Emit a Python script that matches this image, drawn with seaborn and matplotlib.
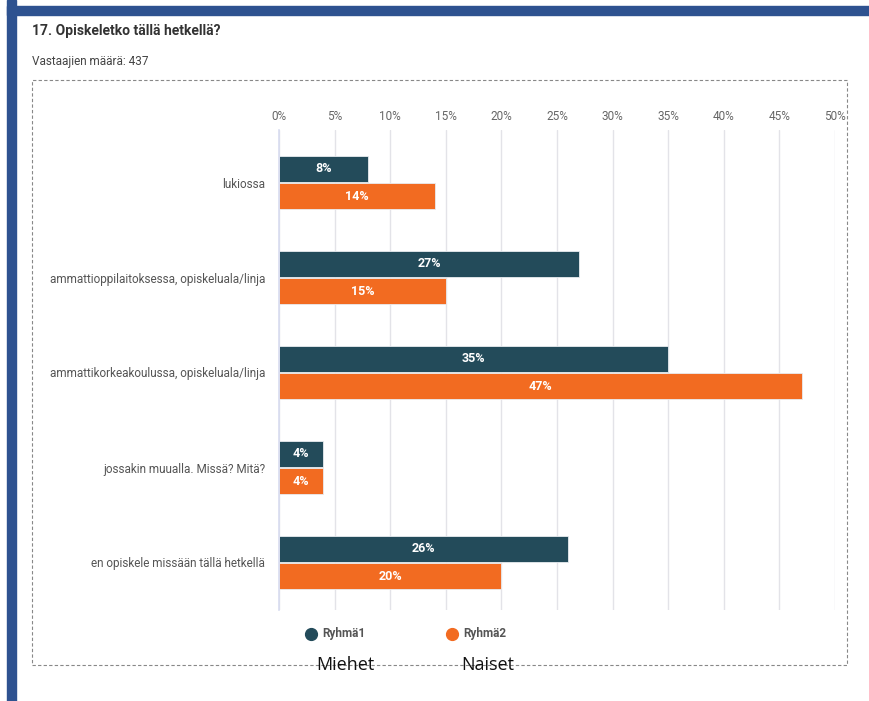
import matplotlib
matplotlib.use("Agg")
import matplotlib.pyplot as plt
import seaborn as sns
import pandas as pd
from matplotlib.patches import Rectangle
from matplotlib.lines import Line2D

categories = ["lukiossa",
              "ammattioppilaitoksessa, opiskeluala/linja",
              "ammattikorkeakoulussa, opiskeluala/linja",
              "jossakin muualla. Missä? Mitä?",
              "en opiskele missään tällä hetkellä"]
groups = ["Ryhmä1", "Ryhmä2"]
ryhma1 = [8, 27, 35, 4, 26]
ryhma2 = [14, 15, 47, 4, 20]
xticks = [0, 5, 10, 15, 20, 25, 30, 35, 40, 45, 50]
group_names = ["Miehet", "Naiset"]

df = pd.DataFrame({
    "cat": categories * 2,
    "grp": [groups[0]] * 5 + [groups[1]] * 5,
    "val": ryhma1 + ryhma2,
})

sns.set_theme(style="white")
plt.rcParams['font.family'] = ['Roboto', 'DejaVu Sans']

W, H = 869, 701
fig = plt.figure(figsize=(W / 100, H / 100), dpi=100)

def fx(px): return px / W
def fy(py): return 1 - py / H

# blue frame
fig.patches.append(Rectangle((fx(7), fy(701)), fx(9), 701 / H, transform=fig.transFigure, color="#2E5290", zorder=0))
fig.patches.append(Rectangle((fx(7), fy(15)), 1 - fx(7), 9 / H, transform=fig.transFigure, color="#2E5290", zorder=0))
# dashed box
fig.patches.append(Rectangle((fx(32), fy(665)), fx(847 - 32), (665 - 80) / H, transform=fig.transFigure,
                             fill=False, edgecolor="#888888", linestyle=(0, (3, 2)), linewidth=0.8, zorder=0))

ax = fig.add_axes([fx(279), fy(610), fx(835 - 279), (610 - 130) / H])
colors = {"Ryhmä1": "#234B5A", "Ryhmä2": "#F26B21"}
sns.barplot(data=df, y="cat", x="val", hue="grp", order=categories, hue_order=groups,
            palette=colors, orient="h", width=0.58, gap=0.06, ax=ax, legend=False,
            edgecolor="#e8ecf0", linewidth=0.6, saturation=1)

ax.set_xlim(0, 50)
ax.set_ylim(4.5, 4.5 - 480 / 95)
ax.set_xticks(xticks)
ax.set_xticklabels([f"{t}%" for t in xticks])
ax.xaxis.tick_top()
ax.tick_params(axis="x", length=0, pad=5, labelsize=8.5, labelcolor="#666666")
ax.tick_params(axis="y", length=0, pad=10, labelsize=8.5, labelcolor="#555555")
ax.set_xlabel("")
ax.set_ylabel("")
ax.grid(axis="x", color="#e3e3e8", linewidth=1)
ax.set_axisbelow(True)
for s in ["top", "right", "bottom"]:
    ax.spines[s].set_visible(False)
ax.spines["left"].set_color("#d8dcf0")
ax.spines["left"].set_linewidth(1.2)

for cont in ax.containers:
    ax.bar_label(cont, labels=[f"{v:.0f}%" for v in cont.datavalues], label_type="center",
                 color="white", fontsize=9, fontweight="bold")

fig.text(fx(32), fy(31), "17. Opiskeletko tällä hetkellä?", fontsize=10, fontweight="bold",
         color="#333333", va="center", ha="left")
fig.text(fx(32), fy(61), "Vastaajien määrä: 437", fontsize=8.5, color="#444444", va="center", ha="left")

# legend
for px, g in [(311, groups[0]), (452, groups[1])]:
    fig.add_artist(Line2D([fx(px)], [fy(634)], marker="o", markersize=8.5, color=colors[g],
                          transform=fig.transFigure, linestyle="none"))
    fig.text(fx(px + 11), fy(634), g, fontsize=8.5, fontweight="bold", color="#555555", va="center", ha="left")

fig.text(fx(316), fy(665), group_names[0], fontsize=13, color="#111111", va="center", ha="left",
         family=["Open Sans", "DejaVu Sans"])
fig.text(fx(461), fy(665), group_names[1], fontsize=13, color="#111111", va="center", ha="left",
         family=["Open Sans", "DejaVu Sans"])

fig.savefig("out.png", dpi=100)
